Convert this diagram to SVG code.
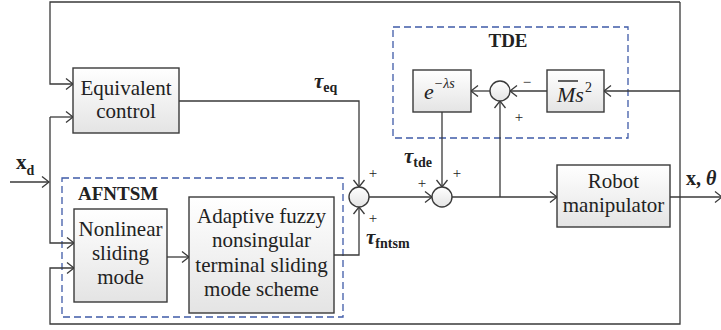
<svg xmlns="http://www.w3.org/2000/svg" width="721" height="330" viewBox="0 0 721 330">
<defs>
<linearGradient id="g" x1="0" y1="0" x2="0" y2="1">
<stop offset="0" stop-color="#ffffff"/>
<stop offset="1" stop-color="#e4e4e4"/>
</linearGradient>
<marker id="a" markerUnits="userSpaceOnUse" markerWidth="12" markerHeight="14" viewBox="-9 -7 10 14" refX="0" refY="0" orient="auto" overflow="visible">
<path d="M-7,-5.5 L0,0 L-7,5.5" fill="none" stroke="#3a3a3a" stroke-width="1.3"/>
</marker>
</defs>
<style>
.b{fill:url(#g);stroke:#3a3a3a;stroke-width:1.4}
.d{fill:none;stroke:#3f5ba8;stroke-width:1.3;stroke-dasharray:7 4}
.l{fill:none;stroke:#3a3a3a;stroke-width:1.3}
text{font-family:"Liberation Serif","Times New Roman","DejaVu Serif",serif;fill:#222222}
.t{font-size:21px;text-anchor:middle}
.h{font-size:19px;font-weight:bold}
.p{font-size:15px;text-anchor:middle}
</style>
<g id="tde-group">
<rect class="d" x="393" y="27" width="235" height="111"/>
<text class="h" x="508" y="47" text-anchor="middle">TDE</text>
</g>
<g id="afntsm-group">
<rect class="d" x="62" y="178" width="281" height="139"/>
<text class="h" x="78" y="200">AFNTSM</text>
</g>
<g id="connectors">
<polyline class="l" points="680,2 50,2 50,84 73,84" marker-end="url(#a)"/>
<polyline class="l" points="50,117 73,117" marker-end="url(#a)"/>
<polyline class="l" points="50,117 50,243 74,243" marker-end="url(#a)"/>
<polyline class="l" points="10,182 49,182" marker-end="url(#a)"/>
<polyline class="l" points="680,2 680,324 50,324 50,268 74,268" marker-end="url(#a)"/>
<polyline class="l" points="167,257 189,257" marker-end="url(#a)"/>
<polyline class="l" points="179,101 359,101 359,187" marker-end="url(#a)"/>
<polyline class="l" points="334,255 359,255 359,207" marker-end="url(#a)"/>
<polyline class="l" points="369,197 432,197" marker-end="url(#a)"/>
<polyline class="l" points="442,112 442,187" marker-end="url(#a)"/>
<polyline class="l" points="452,197 557,197" marker-end="url(#a)"/>
<polyline class="l" points="500,197 500,101" marker-end="url(#a)"/>
<polyline class="l" points="680,91 604,91" marker-end="url(#a)"/>
<polyline class="l" points="547,91 510,91" marker-end="url(#a)"/>
<polyline class="l" points="490,91 471,91" marker-end="url(#a)"/>
<polyline class="l" points="670,197 722,197" marker-end="url(#a)"/>
</g>
<g id="equivalent-control">
<rect class="b" x="73" y="68" width="106" height="65"/>
<text class="t" x="126" y="95">Equivalent</text>
<text class="t" x="126" y="118">control</text>
</g>
<g id="nonlinear-sliding-mode">
<rect class="b" x="74" y="209" width="93" height="93"/>
<text class="t" x="120.5" y="236">Nonlinear</text>
<text class="t" x="120.5" y="260">sliding</text>
<text class="t" x="120.5" y="284">mode</text>
</g>
<g id="afntsm-scheme">
<rect class="b" x="189" y="197" width="145" height="116"/>
<text class="t" x="261.5" y="223">Adaptive fuzzy</text>
<text class="t" x="261.5" y="247">nonsingular</text>
<text class="t" x="261.5" y="272">terminal sliding</text>
<text class="t" x="261.5" y="296">mode scheme</text>
</g>
<g id="delay">
<rect class="b" x="413" y="70" width="58" height="42"/>
<text x="424" y="99" font-size="22" font-style="italic">e<tspan font-size="14" dy="-11">−λs</tspan></text>
</g>
<g id="mass">
<rect class="b" x="547" y="70" width="57" height="42"/>
<line x1="558" y1="81" x2="578" y2="81" stroke="#222222" stroke-width="1.4"/>
<text x="557" y="102" font-size="22" font-style="italic">Ms<tspan font-size="14" font-style="normal" dy="-10" dx="1">2</tspan></text>
</g>
<g id="robot-manipulator">
<rect class="b" x="557" y="165" width="113" height="62"/>
<text class="t" x="613.5" y="188">Robot</text>
<text class="t" x="613.5" y="212">manipulator</text>
</g>
<g id="sum-tde">
<circle class="b" cx="500" cy="91" r="10"/>
<text class="p" x="527" y="87">−</text>
<text class="p" x="519" y="122">+</text>
</g>
<g id="sum1">
<circle class="b" cx="359" cy="197" r="10"/>
<text class="p" x="373" y="178">+</text>
<text class="p" x="373" y="223">+</text>
</g>
<g id="sum2">
<circle class="b" cx="442" cy="197" r="10"/>
<text class="p" x="422" y="188">+</text>
<text class="p" x="457" y="178">+</text>
</g>
<g id="labels">
<text x="16" y="169" font-size="21" font-weight="bold">x<tspan font-size="14" dy="6">d</tspan></text>
<text x="314" y="88" font-size="21" font-weight="bold" font-style="italic">τ<tspan font-size="14" font-style="normal" dy="4">eq</tspan></text>
<text x="404" y="163" font-size="21" font-weight="bold" font-style="italic">τ<tspan font-size="14" font-style="normal" dy="4">tde</tspan></text>
<text x="366" y="244" font-size="21" font-weight="bold" font-style="italic">τ<tspan font-size="14" font-style="normal" dy="4">fntsm</tspan></text>
<text x="686" y="185" font-size="20" font-weight="bold">x, <tspan font-style="italic">θ</tspan></text>
</g>
</svg>
